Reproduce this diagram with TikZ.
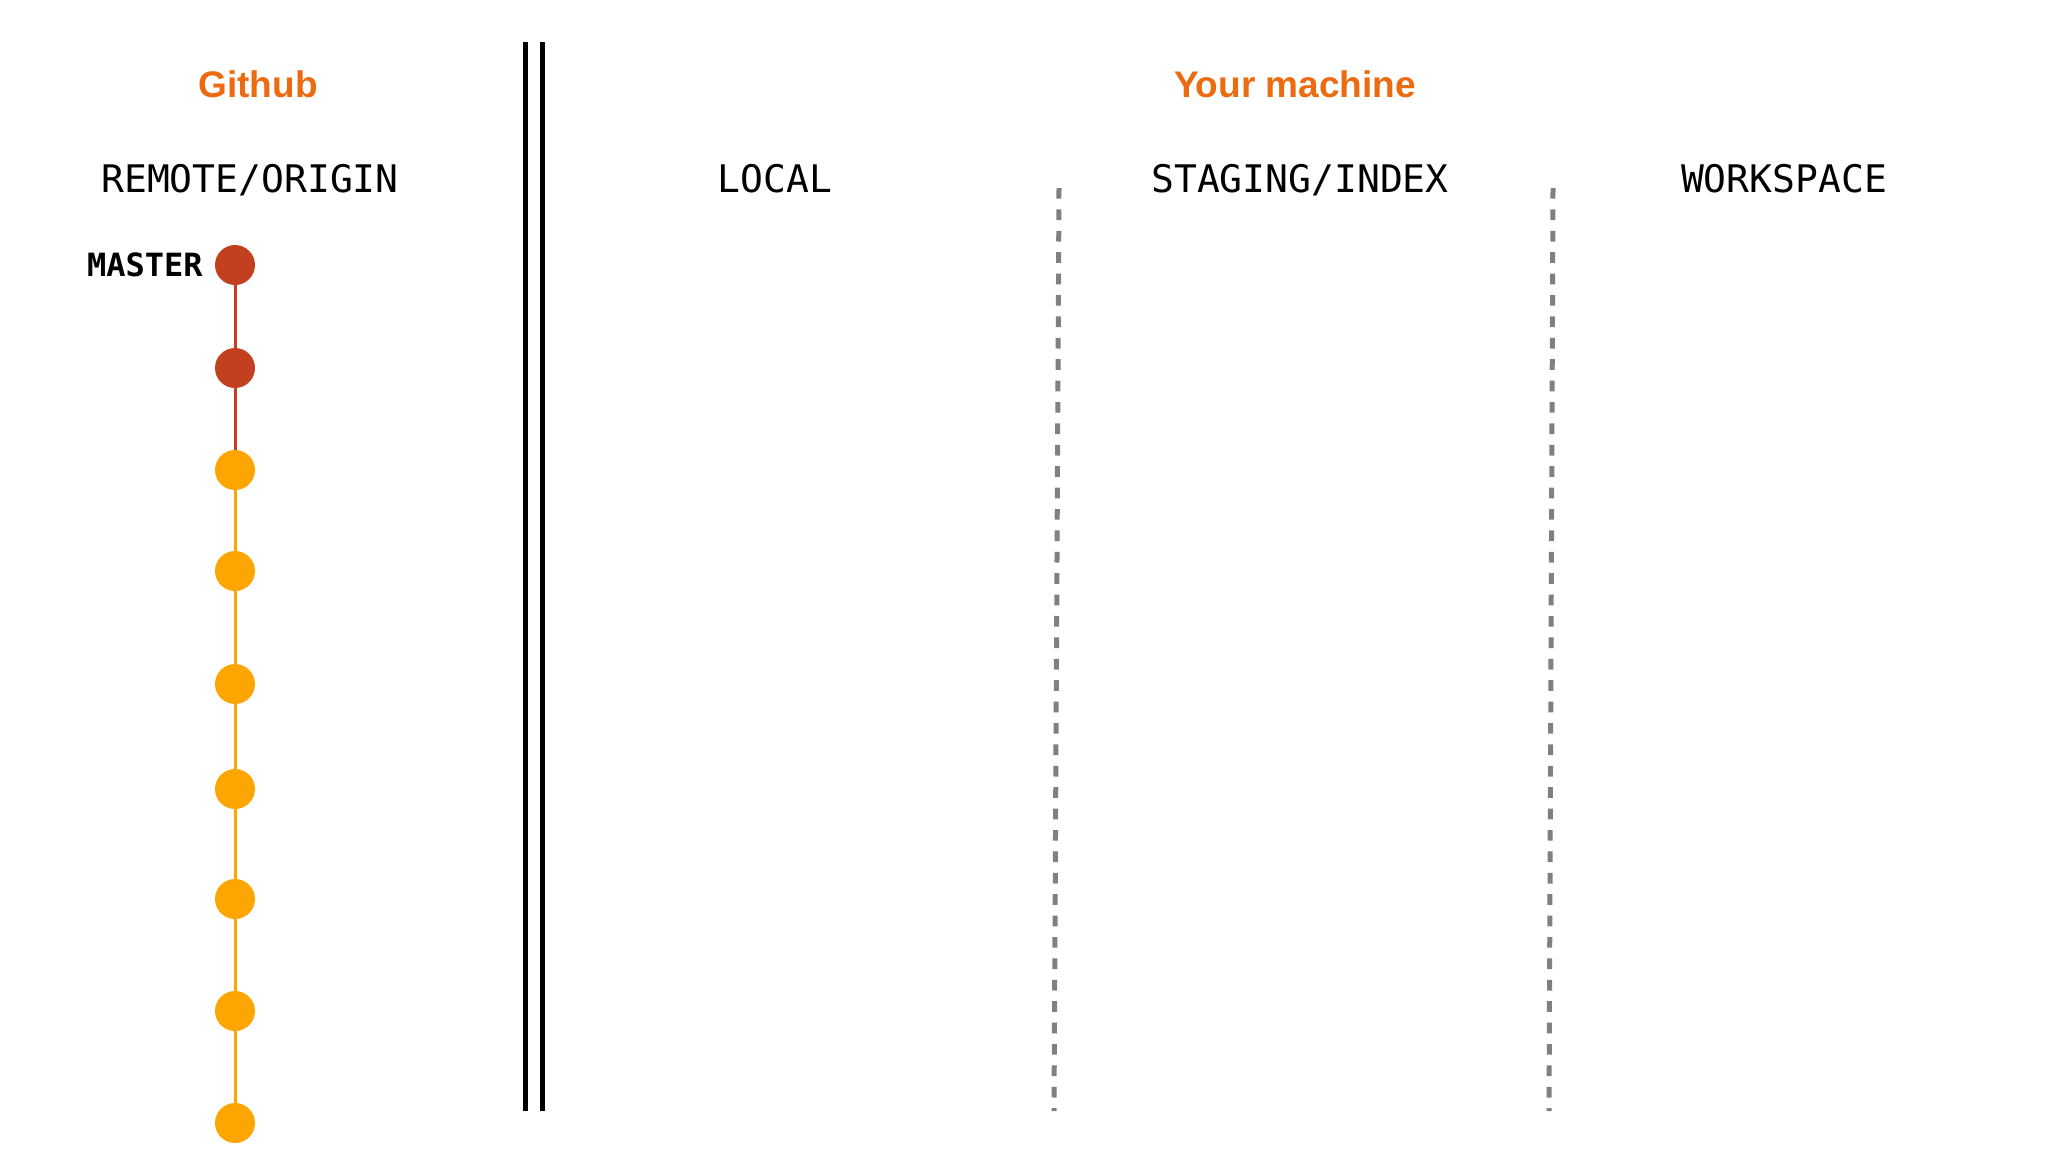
\documentclass[tikz,border=0pt]{standalone}
\usepackage{fontspec}
\setmainfont{Liberation Sans}
\newfontfamily\codefont{DejaVu Sans Mono}
\usepackage{tikz}
\usetikzlibrary{positioning}

\definecolor{hubOrange}{HTML}{EC6A10}
\definecolor{commitRed}{HTML}{C2401F}
\definecolor{commitYellow}{HTML}{FFA500}
\definecolor{laneGray}{HTML}{808080}

\tikzset{
	title/.style={anchor=base, text=hubOrange, font=\fontsize{37}{37}\selectfont\bfseries},
	area/.style={anchor=base, font=\codefont\fontsize{38}{38}\selectfont},
	commit/.style={circle, inner sep=0pt, minimum size=40pt},
	oldcommit/.style={commit, fill=commitYellow},
	newcommit/.style={commit, fill=commitRed},
	redlink/.style={draw=commitRed, line width=3pt},
	yellowlink/.style={draw=commitYellow, line width=3pt},
	lane/.style={draw=laneGray, line width=5pt, dash pattern=on 10.7pt off 10.7pt}
}

\begin{document}
\begin{tikzpicture}[x=1pt,y=-1pt,node distance=103pt,on grid]
	\useasboundingbox (0,0) rectangle (2048,1152);

	% headings
	\node[title] (github) at (258,97) {Github};
	\node[title] (machine) at (1295,97) {Your machine};
	\node[area] (remote) at (250,192) {REMOTE/ORIGIN};
	\node[area] (local) at (775,192) {LOCAL};
	\node[area] (staging) at (1300,192) {STAGING/INDEX};
	\node[area] (workspace) at (1784,192) {WORKSPACE};

	% commits on master
	\node[newcommit] (c1) at (235,265) {};
	\node[newcommit, below=103pt of c1] (c2) {};
	\node[oldcommit, below=102pt of c2] (c3) {};
	\node[oldcommit, below=101pt of c3] (c4) {};
	\node[oldcommit, below=113pt of c4] (c5) {};
	\node[oldcommit, below=105pt of c5] (c6) {};
	\node[oldcommit, below=110pt of c6] (c7) {};
	\node[oldcommit, below=112pt of c7] (c8) {};
	\node[oldcommit, below=112pt of c8] (c9) {};
	\node[on grid=false, left=12pt of c1, inner sep=0pt, font=\codefont\fontsize{32}{32}\selectfont\bfseries] (master) {MASTER};

	\draw[redlink] (c1) -- (c2);
	\draw[redlink] (c2) -- (c3);
	\draw[yellowlink] (c3) -- (c4);
	\draw[yellowlink] (c4) -- (c5);
	\draw[yellowlink] (c5) -- (c6);
	\draw[yellowlink] (c6) -- (c7);
	\draw[yellowlink] (c7) -- (c8);
	\draw[yellowlink] (c8) -- (c9);

	% github | your machine
	\draw[line width=5pt] (525,42) -- (525,1111);
	\draw[line width=5pt] (542,42) -- (542,1111);

	% dashed lanes
	\coordinate (lanea top) at (1059,188);
	\coordinate (lanea bottom) at (1054,1111);
	\coordinate (laneb top) at (1553,188);
	\coordinate (laneb bottom) at (1549,1111);
	\draw[lane] (lanea top) -- (lanea bottom);
	\draw[lane] (laneb top) -- (laneb bottom);
\end{tikzpicture}
\end{document}
